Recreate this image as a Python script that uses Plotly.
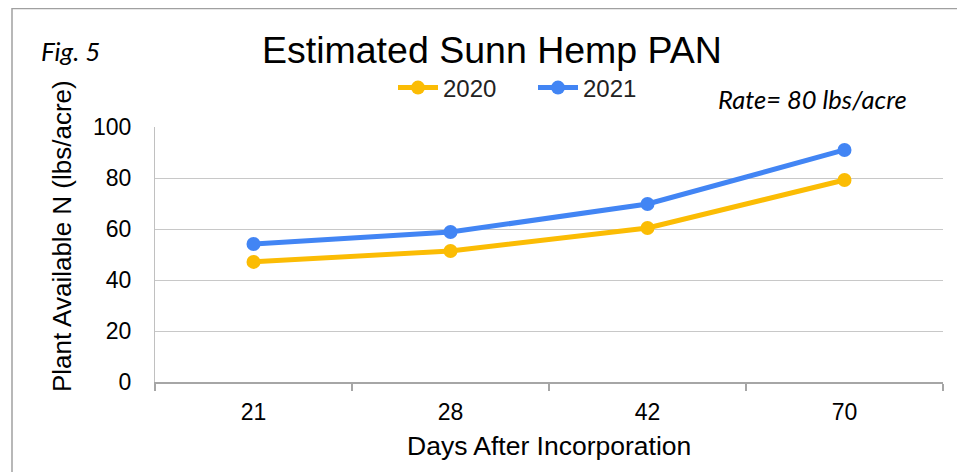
import plotly.graph_objects as go

days = ["21", "28", "42", "70"]
pan_2020 = [47.1, 51.4, 60.4, 79.2]
pan_2021 = [54.1, 58.8, 69.8, 91.0]
y_ticks = [0, 20, 40, 60, 80, 100]

OFF = 8  # page body margin
W, H = 965 - OFF, 472 - OFF
L, R, T, B = 155 - OFF, 22, 127 - OFF, 90
pw, ph = W - L - R, H - T - B

def px(x):
    return (x - OFF - L) / pw

def py(y):
    return (H - B - (y - OFF)) / ph

YELLOW = "#FBBC04"
BLUE = "#4285F4"
FONT = "Liberation Sans, Arial, sans-serif"

fig = go.Figure()
fig.add_trace(go.Scatter(x=days, y=pan_2020, name="2020", mode="lines+markers",
                         line=dict(color=YELLOW, width=5),
                         marker=dict(color=YELLOW, size=14)))
fig.add_trace(go.Scatter(x=days, y=pan_2021, name="2021", mode="lines+markers",
                         line=dict(color=BLUE, width=5),
                         marker=dict(color=BLUE, size=14)))

fig.update_layout(
    width=W, height=H,
    margin=dict(l=L, r=R, t=T, b=B),
    paper_bgcolor="white", plot_bgcolor="white",
    font=dict(family=FONT, color="#000000", size=22),
    showlegend=True,
    legend=dict(orientation="h", x=px(393), y=py(88), xanchor="left", yanchor="middle",
                font=dict(size=24, color="#222222"), bgcolor="rgba(0,0,0,0)",
                itemwidth=40, tracegroupgap=0, entrywidth=85),
    xaxis=dict(type="category", range=[-0.5, 3.5], tickson="boundaries",
               ticks="outside", ticklen=7, tickcolor="#A6A6A6", tickwidth=1.5,
               showline=True, linecolor="#A6A6A6", linewidth=1.5,
               showgrid=False, tickfont=dict(size=23), ticklabelstandoff=9),
    yaxis=dict(range=[0, 100], tickvals=y_ticks, showgrid=True,
               gridcolor="#C8C8C8", gridwidth=1.3, zeroline=False,
               showline=True, linecolor="#C0C0C0", linewidth=1,
               ticks="", tickfont=dict(size=23), ticklabelstandoff=18),
)

annotations = [
    dict(text="Estimated Sunn Hemp PAN", x=px(492), y=py(50), xref="paper", yref="paper",
         showarrow=False, font=dict(size=37.5, family=FONT, color="#000000"),
         xanchor="center", yanchor="middle"),
    dict(text="<i>Fig. 5</i>", x=px(39), y=py(51), xref="paper", yref="paper",
         showarrow=False, font=dict(size=26, family="Lato, sans-serif", color="#000000"),
         xanchor="left", yanchor="middle"),
    dict(text="<i>Rate= 80 lbs/acre</i>", x=px(909), y=py(99), xref="paper", yref="paper",
         showarrow=False, font=dict(size=25.5, family="Lato, sans-serif", color="#000000"),
         xanchor="right", yanchor="middle"),
    dict(text="Plant Available N (lbs/acre)", x=px(62), y=py(236), xref="paper", yref="paper",
         showarrow=False, textangle=-90, font=dict(size=26, family=FONT, color="#000000"),
         xanchor="center", yanchor="middle"),
    dict(text="Days After Incorporation", x=px(549), y=py(446), xref="paper", yref="paper",
         showarrow=False, font=dict(size=26.5, family=FONT, color="#000000"),
         xanchor="center", yanchor="middle"),
]
fig.update_layout(annotations=annotations)

fig.update_layout(shapes=[
    dict(type="line", xref="paper", yref="paper", x0=px(12), x1=px(12), y0=py(8), y1=py(472),
         line=dict(color="#A0A0A0", width=1.5)),
    dict(type="line", xref="paper", yref="paper", x0=px(12), x1=px(965), y0=py(8.5), y1=py(8.5),
         line=dict(color="#A0A0A0", width=1.5)),
])

fig.write_html("out.html")
